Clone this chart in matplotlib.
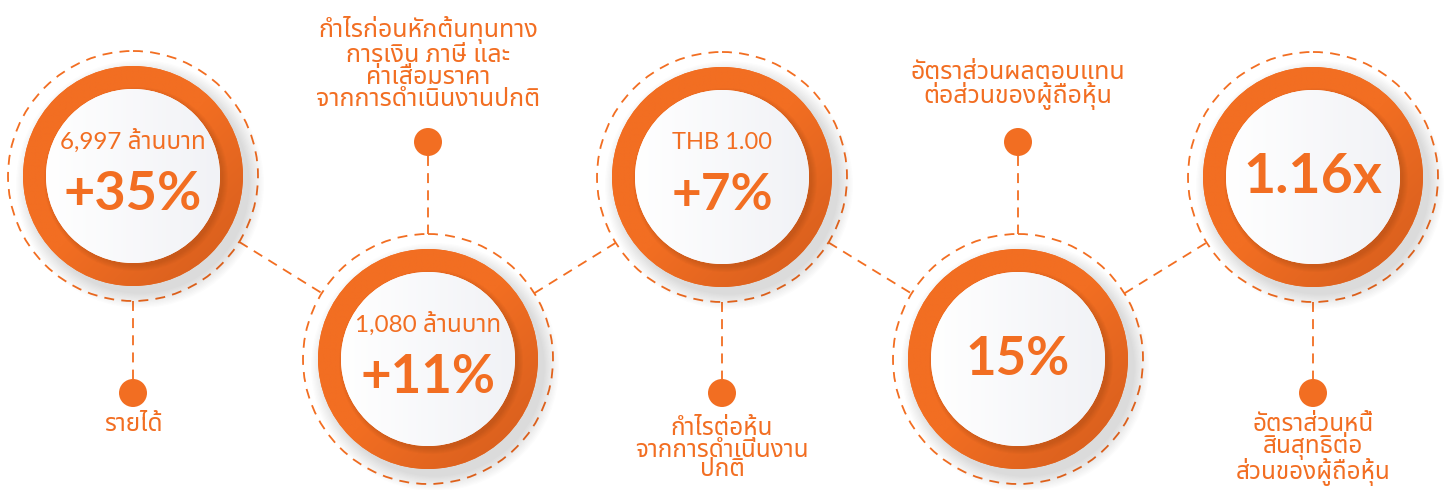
import numpy as np
import matplotlib
matplotlib.use("Agg")
import matplotlib.pyplot as plt
from matplotlib import font_manager as fm
from matplotlib.ft2font import FT2Font
from matplotlib.patches import Circle

# --- data ---
headline = ["+35%", "+11%", "+7%", "15%", "1.16x"]
subline = ["6,997 ล้านบาท", "1,080 ล้านบาท", "THB 1.00", "", ""]
labels = [
    "รายได้",
    "กำไรก่อนหักต้นทุนทาง\nการเงิน ภาษี และ\nค่าเสื่อมราคา\nจากการดำเนินงานปกติ",
    "กำไรต่อหุ้น\nจากการดำเนินงาน\nปกติ",
    "อัตราส่วนผลตอบแทน\nต่อส่วนของผู้ถือหุ้น",
    "อัตราส่วนหนี้\nสินสุทธิต่อ\nส่วนของผู้ถือหุ้น",
]

# layout (pixel units)
cx = [133, 428, 722, 1018, 1313]
cy = [176, 359, 177, 359, 177]
head_size = [39, 38, 37, 38, 40]
sub_size = [17.5, 17.5, 17, 0, 0]

ORANGE = "#f26e22"
DARK = "#d35c1d"


def thai_font():
    prefer = ["Noto Sans Thai", "Noto Sans Thai Looped", "Loma", "Garuda", "Norasi",
              "Kinnari", "Sawasdee", "Tlwg Typo", "Waree", "Umpush"]
    found = []
    for f in fm.fontManager.ttflist:
        try:
            ft = FT2Font(f.fname)
            if ft.get_char_index(ord("ก")) and ft.get_char_index(ord("ำ")):
                found.append(f.name)
        except Exception:
            pass
    for p in prefer:
        if p in found:
            return p
    return found[0] if found else "DejaVu Sans"


THAI = thai_font()
FAM = ["Lato", THAI, "DejaVu Sans"]

fig = plt.figure(figsize=(14.48, 4.9), dpi=100)
ax = fig.add_axes([0, 0, 1, 1])
ax.set_xlim(0, 1448)
ax.set_ylim(490, 0)
ax.axis("off")

R_DASH, R_RING, R_IN, R_DOT = 125, 110, 87, 14
dash = (0, (5.5, 4))

# dashed connectors between neighbouring circles
for i in range(len(cx) - 1):
    p1 = np.array([cx[i], cy[i]], float)
    p2 = np.array([cx[i + 1], cy[i + 1]], float)
    u = (p2 - p1) / np.linalg.norm(p2 - p1)
    a = p1 + u * R_DASH
    b = p2 - u * R_DASH
    ax.plot([a[0], b[0]], [a[1], b[1]], color=ORANGE, lw=1.3, ls=dash, zorder=1)

grad = np.linspace(0, 1, 256)
gx, gy = np.meshgrid(grad, grad)
g = (gx + gy) / 2
ring_cmap = matplotlib.colors.LinearSegmentedColormap.from_list("r", [ORANGE, ORANGE, DARK])
in_cmap = matplotlib.colors.LinearSegmentedColormap.from_list("w", ["#ffffff", "#f1f2f6"])

for i in range(len(cx)):
    x, y = cx[i], cy[i]
    up = (i % 2 == 1)
    ax.add_patch(Circle((x, y), R_DASH, fill=False, ec=ORANGE, lw=1.3, ls=dash, zorder=2))

    # soft shadow
    for k in range(12):
        ax.add_patch(Circle((x + 7, y + 8), R_RING + 14 - k * 1.3, color="#000000",
                            alpha=0.012, lw=0, zorder=3))

    ring = Circle((x, y), R_RING, color=ORANGE, lw=0, zorder=4)
    ax.add_patch(ring)
    im = ax.imshow(g, cmap=ring_cmap, extent=(x - R_RING, x + R_RING, y + R_RING, y - R_RING),
                   zorder=4.1, interpolation="bilinear")
    im.set_clip_path(ring)

    for k in range(6):
        ax.add_patch(Circle((x + 3, y + 3), R_IN + 5 - k, color="#7a3510",
                            alpha=0.04, lw=0, zorder=4.5))
    inner = Circle((x, y), R_IN, color="white", lw=0, zorder=5)
    ax.add_patch(inner)
    im2 = ax.imshow(gx, cmap=in_cmap, extent=(x - R_IN, x + R_IN, y + R_IN, y - R_IN),
                    zorder=5.1, interpolation="bilinear")
    im2.set_clip_path(inner)

    # texts inside circle
    if subline[i]:
        ax.text(x, y - 35, subline[i], ha="center", va="center", fontsize=sub_size[i],
                color=ORANGE, family=FAM, zorder=6)
        ax.text(x, y + 18, headline[i], ha="center", va="center", fontsize=head_size[i],
                color=ORANGE, family=FAM, weight="bold", zorder=6)
    else:
        ax.text(x, y, headline[i], ha="center", va="center", fontsize=head_size[i],
                color=ORANGE, family=FAM, weight="bold", zorder=6)

    # stem, dot and label
    if up:
        dy = 142
        ax.plot([x, x], [dy + R_DOT, y - R_DASH], color=ORANGE, lw=1.3, ls=dash, zorder=1)
        ax.add_patch(Circle((x, dy), R_DOT, color=ORANGE, lw=0, zorder=6))
        ax.text(x, dy - 32, labels[i], ha="center", va="bottom", fontsize=18,
                color=ORANGE, family=FAM, linespacing=0.95, zorder=6)
    else:
        dy = 393
        ax.plot([x, x], [y + R_DASH, dy - R_DOT], color=ORANGE, lw=1.3, ls=dash, zorder=1)
        ax.add_patch(Circle((x, dy), R_DOT, color=ORANGE, lw=0, zorder=6))
        ax.text(x, dy + 21, labels[i], ha="center", va="top", fontsize=17.5,
                color=ORANGE, family=FAM, linespacing=0.88, zorder=6)

ax.set_xlim(0, 1448)
ax.set_ylim(490, 0)
fig.savefig("out.png", dpi=100, facecolor="white")
